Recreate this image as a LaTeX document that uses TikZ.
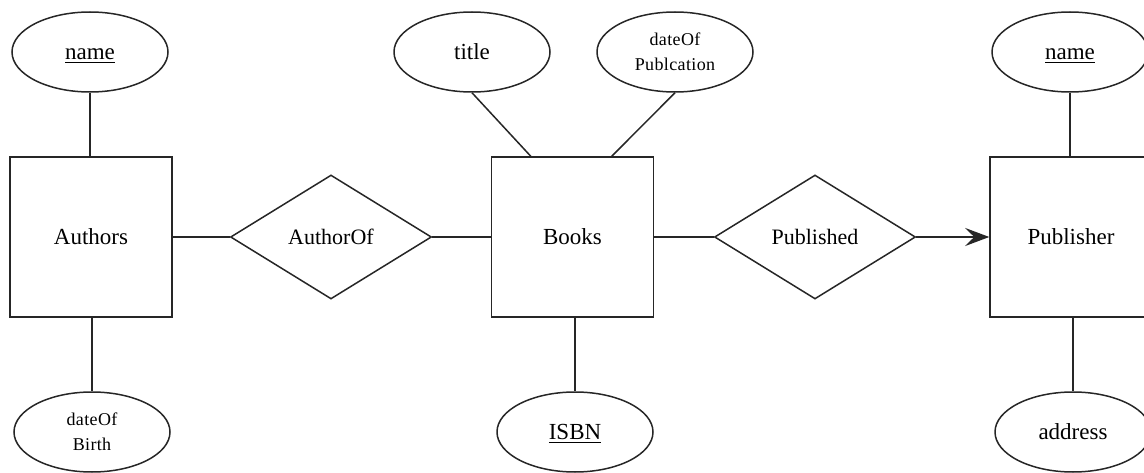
\documentclass[tikz,border=0pt]{standalone}
\usepackage{fontspec}
\setmainfont{Liberation Serif}
\newfontfamily\attrfont[LetterSpace=2]{Liberation Serif}
\usetikzlibrary{shapes.geometric,arrows.meta}
% key attribute: text with a rule just under its baseline that does not move the text
\newsavebox\keybox
\newcommand{\keyattr}[1]{\sbox\keybox{#1}\vphantom{h}\rlap{\smash{\rule[-3pt]{\wd\keybox}{1.3pt}}}\usebox\keybox}
\tikzset{
  ln/.style={line width=1.5pt, draw=black!85},
  entity/.style={ln, rectangle, minimum width=162pt, minimum height=160pt, inner sep=0pt,
    font=\fontsize{23}{27}\selectfont},
  attr/.style={ln, ellipse, minimum width=156pt, minimum height=80pt, inner sep=0pt,
    font=\fontsize{23}{27}\selectfont},
  attrsmall/.style={attr, align=center, font=\attrfont\fontsize{18}{25}\selectfont},
  rel/.style={ln, diamond, aspect=1.63, minimum width=201pt, minimum height=124pt, inner sep=0pt,
    font=\fontsize{22}{26}\selectfont},
  conn/.style={ln},
  arr/.style={ln, -{Stealth[length=24pt, width=18pt, inset=9pt]}}
}
\begin{document}
\begin{tikzpicture}[x=1pt, y=-1pt]
  \useasboundingbox (0,0) rectangle (1144,473);
  \clip (0,0) rectangle (1144,473);

  % entities
  \node[entity] (authors)   at (91,237)   {Authors};
  \node[entity] (books)     at (572.5,237) {Books};
  \node[entity] (publisher) at (1071,237) {Publisher};

  % relationships
  \node[rel] (authorof)  at (331,237) {AuthorOf};
  \node[rel] (published) at (815,237) {Published};

  % attributes
  \node[attr] (aname)   at (90,52)   {\keyattr{name}};
  \node[attrsmall] (abirth) at (92,432) {dateOf\\Birth};
  \node[attr] (title)   at (472,52)  {title};
  \node[attrsmall] (pubdate) at (675,52) {dateOf\\Publcation};
  \node[attr] (isbn)    at (575,432) {\keyattr{ISBN}};
  \node[attr] (pname)   at (1070,52) {\keyattr{name}};
  \node[attr] (address) at (1073,432) {address};

  % attribute links
  \draw[conn] (aname.south) -- (aname.south |- authors.north);
  \draw[conn] (abirth.north |- authors.south) -- (abirth.north);
  \coordinate (bk1) at ([xshift=40pt]books.north west);
  \coordinate (bk2) at ([xshift=121pt]books.north west);
  \draw[conn] (title.south) -- (bk1);
  \draw[conn] (pubdate.south) -- (bk2);
  \draw[conn] (isbn.north |- books.south) -- (isbn.north);
  \draw[conn] (pname.south) -- (pname.south |- publisher.north);
  \draw[conn] (address.north |- publisher.south) -- (address.north);

  % relationship links
  \draw[conn] (authors.east) -- (authorof.west);
  \draw[conn] (authorof.east) -- (books.west);
  \draw[conn] (books.east) -- (published.west);
  \draw[arr] (published.east) -- (publisher.west);
\end{tikzpicture}
\end{document}
